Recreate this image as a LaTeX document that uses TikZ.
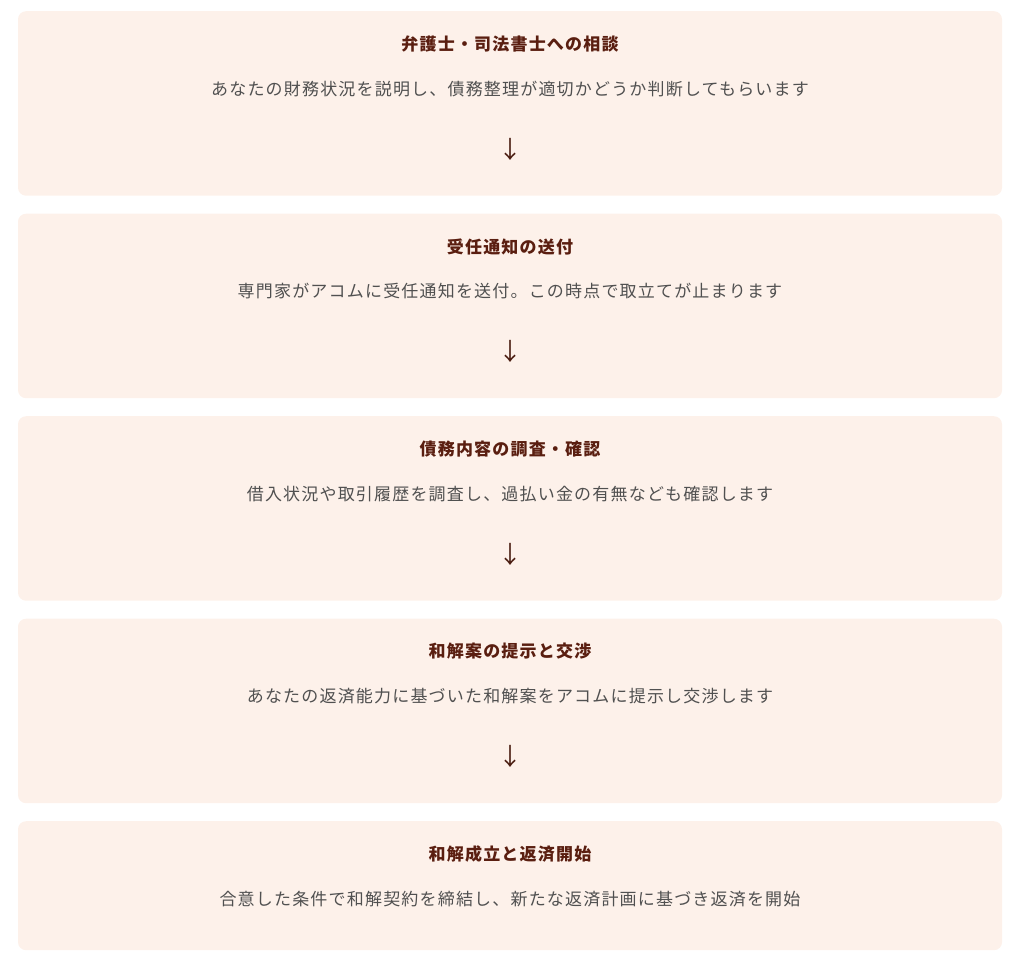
\documentclass[tikz,border=0pt]{standalone}
\usepackage{fontspec}
\setmainfont{Noto Sans CJK JP}[LetterSpace=7]
\usepackage{tikz}
\usetikzlibrary{positioning}
\definecolor{boxfill}{HTML}{FDF1EA}
\definecolor{titleclr}{HTML}{5A1E10}
\definecolor{bodyclr}{HTML}{505050}
\definecolor{arrowclr}{HTML}{4A1C10}
\newcommand{\boxstep}{202.5}

\tikzset{
    stepbox/.style = {fill=boxfill, rounded corners=8pt, minimum width=984pt, anchor=north, inner sep=0pt},
    steptitle/.style = {text=titleclr, font=\bfseries\fontsize{17}{17}\selectfont, inner sep=0pt},
    stepbody/.style = {text=bodyclr, font=\fontsize{17}{17}\selectfont, inner sep=0pt},
    steparrow/.style = {text=arrowclr, font=\fontsize{24}{24}\selectfont, inner sep=0pt}
}

\begin{document}
\begin{tikzpicture}[x=1pt, y=-1pt]

    \useasboundingbox (0,0) rectangle (1024,966);

%%%%        Boxes
    \foreach\i/\h in {0/184.5,1/184.5,2/184.5,3/184.5,4/129} {
        \node[stepbox, minimum height=\h pt] (box\i) at (510,{11+\i*\boxstep}) {};
    }

%%%%        Titles and texts
    \foreach\i/\t/\b in {
        0/{弁護士・司法書士への相談}/{あなたの財務状況を説明し、債務整理が適切かどうか判断してもらいます},
        1/{受任通知の送付}/{専門家がアコムに受任通知を送付。この時点で取立てが止まります},
        2/{債務内容の調査・確認}/{借入状況や取引履歴を調査し、過払い金の有無なども確認します},
        3/{和解案の提示と交渉}/{あなたの返済能力に基づいた和解案をアコムに提示し交渉します},
        4/{和解成立と返済開始}/{合意した条件で和解契約を締結し、新たな返済計画に基づき返済を開始}}
    {
        \node[steptitle] (title\i) at ([yshift=-33pt]box\i.north) {\t};
        \node[stepbody] (text\i) at ([yshift=-78pt]box\i.north) {\b};
    }

%%%%        Arrows
    \foreach\i in {0,1,2,3} {
        \node[steparrow] (arrow\i) at ([yshift=-138pt]box\i.north) {↓};
    }
\end{tikzpicture}
\end{document}
